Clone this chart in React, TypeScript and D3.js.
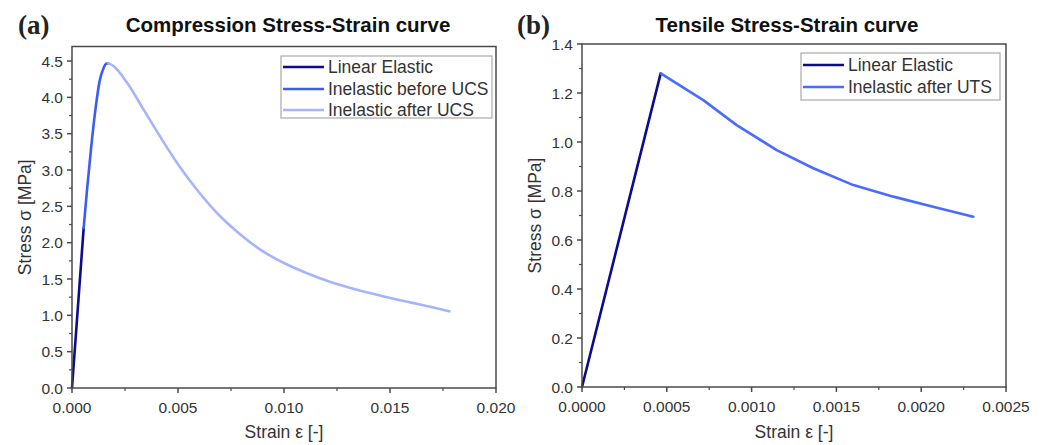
import React from "react";
import * as d3 from "d3";

// ---------- Data ----------
// Panel (a) compression
const compLinearStrain = [0, 0.00055];
const compLinearStress = [0, 2.2];
const compBeforeStrain = [0.00055, 0.0007, 0.0009, 0.0011, 0.0013, 0.0015, 0.0016, 0.00172];
const compBeforeStress = [2.2, 2.7, 3.3, 3.82, 4.22, 4.41, 4.46, 4.47];
const compAfterStrain = [0.00172, 0.002, 0.0026, 0.0034, 0.0042, 0.005, 0.006, 0.007, 0.008, 0.0089, 0.01, 0.011, 0.0122, 0.0134, 0.0147, 0.016, 0.017, 0.0178];
const compAfterStress = [4.47, 4.42, 4.2, 3.82, 3.44, 3.08, 2.69, 2.36, 2.1, 1.9, 1.72, 1.59, 1.46, 1.355, 1.26, 1.175, 1.11, 1.055];
const compXTicks = [0, 0.005, 0.01, 0.015, 0.02];
const compYTicks = [0, 0.5, 1.0, 1.5, 2.0, 2.5, 3.0, 3.5, 4.0, 4.5];

// Panel (b) tensile
const tensLinearStrain = [0, 0.000464];
const tensLinearStress = [0, 1.28];
const tensAfterStrain = [0.000464, 0.000715, 0.000912, 0.001148, 0.001364, 0.0016, 0.001836, 0.00207, 0.002307];
const tensAfterStress = [1.28, 1.171, 1.069, 0.967, 0.893, 0.824, 0.777, 0.736, 0.695];
const tensXTicks = [0, 0.0005, 0.001, 0.0015, 0.002, 0.0025];
const tensYTicks = [0, 0.2, 0.4, 0.6, 0.8, 1.0, 1.2, 1.4];

const C_LIN = "#0b0b8c";
const C_BEFORE = "#3d5cf5";
const C_AFTER_UCS = "#a6b5fb";
const C_AFTER_UTS = "#4a6bff";
const TXT = "#333";
const FRAME = "#4a4a4a";
const FONT = "'Liberation Sans', Arial, sans-serif";

type Series = { xs: number[]; ys: number[]; color: string; label: string; curve: any };

function Panel(props: {
  left: number; right: number; top: number; bottom: number;
  xDomain: [number, number]; yDomain: [number, number];
  xTicks: number[]; yTicks: number[]; xFmt: string; yFmt: string;
  xMinorStep: number; yMinorStep: number;
  series: Series[]; legend: { x: number; y: number; w: number; h: number; rowY: number[] };
  title: string; titleX: number; tag: string; tagX: number;
  yLabelX: number;
}) {
  const p = props;
  const x = d3.scaleLinear().domain(p.xDomain).range([p.left, p.right]);
  const y = d3.scaleLinear().domain(p.yDomain).range([p.bottom, p.top]);
  const xf = d3.format(p.xFmt);
  const yf = d3.format(p.yFmt);
  const xMinor = d3.range(p.xDomain[0] + p.xMinorStep, p.xDomain[1], p.xMinorStep * 2);
  const yMinor = d3.range(p.yDomain[0] + p.yMinorStep, p.yDomain[1], p.yMinorStep * 2);
  return (
    <g>
      <text x={p.tagX} y={34} fontFamily="'Liberation Serif', serif" fontWeight="bold" fontSize={27} fill="#222">{p.tag}</text>
      <text x={p.titleX} y={32} textAnchor="middle" fontFamily={FONT} fontWeight="bold" fontSize={20.5} fill="#111">{p.title}</text>
      {p.series.map((s, i) => {
        const pts = s.xs.map((v, k) => [x(v), y(s.ys[k])] as [number, number]);
        const line = d3.line().curve(s.curve)(pts) || "";
        return <path key={i} d={line} fill="none" stroke={s.color} strokeWidth={2.6} strokeLinejoin="round" strokeLinecap="round" />;
      })}
      <rect x={p.left} y={p.top} width={p.right - p.left} height={p.bottom - p.top} fill="none" stroke={FRAME} strokeWidth={1.5} />
      {p.xTicks.map((t, i) => (
        <g key={"xt" + i}>
          <line x1={x(t)} x2={x(t)} y1={p.bottom} y2={p.bottom + 5} stroke={FRAME} strokeWidth={1.5} />
          <text x={x(t)} y={p.bottom + 25} textAnchor="middle" fontFamily={FONT} fontSize={15.5} fill={TXT}>{xf(t)}</text>
        </g>
      ))}
      {xMinor.map((t, i) => (
        <line key={"xm" + i} x1={x(t)} x2={x(t)} y1={p.bottom} y2={p.bottom + 3} stroke={FRAME} strokeWidth={1.2} />
      ))}
      {p.yTicks.map((t, i) => (
        <g key={"yt" + i}>
          <line x1={p.left - 5} x2={p.left} y1={y(t)} y2={y(t)} stroke={FRAME} strokeWidth={1.5} />
          <text x={p.left - 9} y={y(t) + 5.5} textAnchor="end" fontFamily={FONT} fontSize={15.5} fill={TXT}>{yf(t)}</text>
        </g>
      ))}
      {yMinor.map((t, i) => (
        <line key={"ym" + i} x1={p.left - 3} x2={p.left} y1={y(t)} y2={y(t)} stroke={FRAME} strokeWidth={1.2} />
      ))}
      <text x={(p.left + p.right) / 2} y={438} textAnchor="middle" fontFamily={FONT} fontSize={17.5} fill={TXT}>Strain ε [-]</text>
      <text transform={`translate(${p.yLabelX},${(p.top + p.bottom) / 2}) rotate(-90)`} textAnchor="middle" fontFamily={FONT} fontSize={17.5} fill={TXT}>Stress σ [MPa]</text>
      <rect x={p.legend.x} y={p.legend.y} width={p.legend.w} height={p.legend.h} fill="#fff" stroke="#aaa" strokeWidth={1.2} />
      {p.series.map((s, i) => (
        <g key={"lg" + i}>
          <line x1={p.legend.x + 2} x2={p.legend.x + 43} y1={p.legend.rowY[i]} y2={p.legend.rowY[i]} stroke={s.color} strokeWidth={2.6} />
          <text x={p.legend.x + 47} y={p.legend.rowY[i] + 6} fontFamily={FONT} fontSize={17.5} fill={TXT}>{s.label}</text>
        </g>
      ))}
    </g>
  );
}

export default function App() {
  return (
    <svg width={1046} height={445} style={{ position: "absolute", left: 0, top: 0, background: "#fff" }}>
      <rect x={0} y={0} width={1046} height={445} fill="#fff" />
      <Panel
        left={72} right={496} top={46.5} bottom={388}
        xDomain={[0, 0.02]} yDomain={[0, 4.7]}
        xTicks={compXTicks} yTicks={compYTicks} xFmt=".3f" yFmt=".1f"
        xMinorStep={0.0025} yMinorStep={0.25}
        series={[
          { xs: compLinearStrain, ys: compLinearStress, color: C_LIN, label: "Linear Elastic", curve: d3.curveLinear },
          { xs: compBeforeStrain, ys: compBeforeStress, color: C_BEFORE, label: "Inelastic before UCS", curve: d3.curveMonotoneX },
          { xs: compAfterStrain, ys: compAfterStress, color: C_AFTER_UCS, label: "Inelastic after UCS", curve: d3.curveMonotoneX },
        ]}
        legend={{ x: 281, y: 56, w: 211, h: 62, rowY: [67, 89, 110] }}
        title="Compression Stress-Strain curve" titleX={288} tag="(a)" tagX={18}
        yLabelX={31}
      />
      <Panel
        left={582} right={1006} top={44} bottom={387}
        xDomain={[0, 0.0025]} yDomain={[0, 1.4]}
        xTicks={tensXTicks} yTicks={tensYTicks} xFmt=".4f" yFmt=".1f"
        xMinorStep={0.00025} yMinorStep={0.1}
        series={[
          { xs: tensLinearStrain, ys: tensLinearStress, color: C_LIN, label: "Linear Elastic", curve: d3.curveLinear },
          { xs: tensAfterStrain, ys: tensAfterStress, color: C_AFTER_UTS, label: "Inelastic after UTS", curve: d3.curveLinear },
        ]}
        legend={{ x: 801, y: 53, w: 199, h: 47, rowY: [65, 87] }}
        title="Tensile Stress-Strain curve" titleX={787} tag="(b)" tagX={517}
        yLabelX={541}
      />
    </svg>
  );
}
